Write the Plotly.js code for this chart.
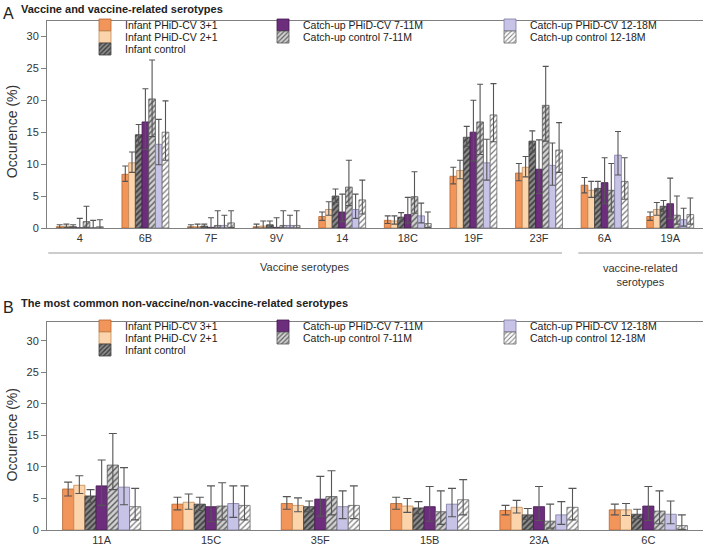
<!DOCTYPE html>
<html><head><meta charset="utf-8">
<script src="https://cdn.plot.ly/plotly-3.0.1.min.js"></script>
<style>html,body{margin:0;padding:0;background:#fff}#chart{width:705px;height:547px}</style>
</head><body><div id="chart"></div>
<script>
// ---------- data ----------
const seriesNames = ['Infant PHiD-CV 3+1','Infant PHiD-CV 2+1','Infant control','Catch-up PHiD-CV 7-11M','Catch-up control 7-11M','Catch-up PHiD-CV 12-18M','Catch-up control 12-18M'];

// Panel A: vaccine and vaccine-related serotypes
const catsA = ['4','6B','7F','9V','14','18C','19F','23F','6A','19A'];
const a1 = [0.2, 8.4, 0.2, 0.2, 1.8, 1.2, 8.1, 8.6, 6.7, 1.8];
const a1hi = [0.5, 9.7, 0.5, 0.6, 2.5, 1.9, 9.5, 10.1, 7.9, 2.5];
const a1lo = [0, 7.3, 0, 0, 1.2, 0.7, 6.9, 7.4, 5.5, 1.2];
const a2 = [0.3, 10.2, 0.2, 0.3, 2.9, 1.1, 9.0, 9.5, 5.9, 2.9];
const a2hi = [0.6, 11.9, 0.6, 1.1, 4.1, 1.9, 10.6, 11.2, 7.3, 4.0];
const a2lo = [0.1, 8.7, 0, 0, 2.0, 0.6, 7.7, 8.0, 4.8, 2.0];
const a3 = [0.2, 14.6, 0.3, 0.5, 5.0, 1.7, 14.2, 13.6, 6.2, 3.4];
const a3hi = [0.5, 16.2, 0.6, 1.1, 6.1, 2.4, 15.9, 15.2, 7.3, 4.3];
const a3lo = [0, 13.0, 0.1, 0.1, 4.0, 1.1, 12.8, 11.9, 5.0, 2.6];
const a4 = [0, 16.6, 0.1, 0.1, 2.5, 2.1, 15.0, 9.2, 7.1, 3.8];
const a4hi = [1.5, 21.8, 1.6, 1.6, 5.3, 4.8, 20.0, 13.8, 11.0, 7.8];
const a4lo = [0, 12.3, 0, 0, 1.0, 0.8, 10.5, 5.4, 3.8, 1.5];
const a5 = [1.0, 20.2, 0.4, 0.4, 6.4, 4.9, 16.6, 19.2, 5.9, 2.0];
const a5hi = [3.4, 26.3, 2.7, 2.7, 10.6, 8.8, 22.5, 25.3, 10.1, 5.0];
const a5lo = [0.1, 14.3, 0, 0, 3.5, 2.3, 11.5, 13.6, 2.5, 0.6];
const a6 = [0, 13.1, 0.4, 0.4, 2.9, 1.9, 10.2, 9.8, 11.4, 1.3];
const a6hi = [1.2, 17.0, 2.0, 2.0, 5.3, 3.9, 13.9, 13.3, 15.1, 3.1];
const a6lo = [0, 9.9, 0, 0, 1.5, 0.8, 7.5, 6.7, 8.3, 0.3];
const a7 = [0.2, 15.0, 0.8, 0.4, 4.4, 0.7, 17.7, 12.2, 7.3, 2.1];
const a7hi = [1.3, 19.9, 2.7, 2.7, 7.5, 2.5, 22.6, 16.5, 11.0, 4.7];
const a7lo = [0, 10.6, 0.1, 0, 2.2, 0.1, 13.5, 8.7, 4.5, 0.6];

// Panel B: most common non-vaccine serotypes
const catsB = ['11A','15C','35F','15B','23A','6C'];
const b1 = [6.5, 4.1, 4.2, 4.2, 3.1, 3.2];
const b1hi = [7.6, 5.2, 5.3, 5.2, 3.9, 4.1];
const b1lo = [5.4, 3.2, 3.3, 3.3, 2.4, 2.4];
const b2 = [7.1, 4.4, 3.9, 3.8, 3.6, 3.2];
const b2hi = [8.6, 5.7, 5.1, 5.0, 4.7, 4.2];
const b2lo = [5.8, 3.3, 2.9, 2.8, 2.7, 2.3];
const b3 = [5.4, 4.1, 3.7, 3.5, 2.4, 2.5];
const b3hi = [6.4, 5.2, 4.6, 4.5, 3.4, 3.3];
const b3lo = [4.4, 3.1, 2.9, 2.6, 1.7, 1.8];
const b4 = [7.0, 3.7, 4.9, 3.7, 3.7, 3.8];
const b4hi = [11.1, 7.0, 8.5, 6.9, 6.9, 6.9];
const b4lo = [3.9, 1.3, 2.2, 1.4, 1.5, 1.5];
const b5 = [10.3, 3.8, 5.3, 2.9, 1.4, 3.0];
const b5hi = [15.3, 7.5, 9.4, 6.2, 4.1, 6.2];
const b5lo = [6.4, 1.6, 2.4, 0.9, 0.3, 1.0];
const b6 = [6.8, 4.2, 3.7, 4.1, 2.4, 2.5];
const b6hi = [9.9, 7.0, 6.2, 6.6, 4.5, 4.6];
const b6lo = [4.0, 2.0, 1.8, 2.1, 0.9, 1.0];
const b7 = [3.7, 3.9, 3.9, 4.8, 3.6, 0.7];
const b7hi = [6.6, 7.0, 7.0, 8.0, 6.6, 2.4];
const b7lo = [1.6, 1.6, 1.8, 2.4, 1.6, 0.1];

const yTicks = [0, 5, 10, 15, 20, 25, 30];

// ---------- styles ----------
const W = 705, H = 547;
const FONT = 'Arial, "Liberation Sans", sans-serif';
const styles = [
  {fill:'#F2955A', line:'#B5652F'},
  {fill:'#FCD4AC', line:'#C08A58'},
  {fill:'#8C8C8C', line:'#3F3F3F', pat:{shape:'/', fgcolor:'#3A3A3A', bgcolor:'#8C8C8C', size:4, solidity:0.4}},
  {fill:'#6D2D7D', line:'#45184F'},
  {fill:'#D0D0D0', line:'#555555', pat:{shape:'/', fgcolor:'#5A5A5A', bgcolor:'#D2D2D2', size:4, solidity:0.35}},
  {fill:'#C6C3E6', line:'#7D7AA3'},
  {fill:'#FFFFFF', line:'#666666', pat:{shape:'/', fgcolor:'#7A7A7A', bgcolor:'#FFFFFF', size:4, solidity:0.3}}
];
const seriesA = [[a1,a1hi,a1lo],[a2,a2hi,a2lo],[a3,a3hi,a3lo],[a4,a4hi,a4lo],[a5,a5hi,a5lo],[a6,a6hi,a6lo],[a7,a7hi,a7lo]];
const seriesB = [[b1,b1hi,b1lo],[b2,b2hi,b2lo],[b3,b3hi,b3lo],[b4,b4hi,b4lo],[b5,b5hi,b5lo],[b6,b6hi,b6lo],[b7,b7hi,b7lo]];

// legend positions (pixels): column starts and row centres
const legCols = [85, 263, 490];
const legSlots = [[0,0],[0,1],[0,2],[1,0],[1,1],[2,0],[2,1]]; // [col,row] per series
const rowsA = [25, 37, 49], rowsB = [326, 338, 350];

const px = v => v / W, py = v => 1 - v / H;

function makeTraces(cats, series, xa, ya, legOffset, errW) {
  return series.map((s, i) => {
    const [v, hi, lo] = s;
    const st = styles[i];
    const marker = {color: st.fill, line: {color: st.line, width: 0.8}};
    if (st.pat) marker.pattern = st.pat;
    return {
      type: 'bar', x: cats, y: v, name: seriesNames[i], xaxis: xa, yaxis: ya,
      marker: marker,
      legend: 'legend' + (legOffset + i === 1 ? '' : (legOffset + i)),
      error_y: {type: 'data', symmetric: false,
        array: v.map((d, k) => hi[k] - d), arrayminus: v.map((d, k) => d - lo[k]),
        color: '#555555', thickness: 1.1, width: errW}
    };
  });
}

const traces = [].concat(
  makeTraces(catsA, seriesA, 'x', 'y', 1, 3),
  makeTraces(catsB, seriesB, 'x2', 'y2', 8, 4)
);

const axX = {type: 'category', showline: true, linecolor: '#808080', linewidth: 1, mirror: true,
  ticks: '', showgrid: false, tickfont: {size: 11, color: '#333'}};
const axY = {tickvals: yTicks, ticks: 'outside', ticklen: 5, tickcolor: '#808080', showline: true,
  linecolor: '#808080', showgrid: false, zeroline: false, tickfont: {size: 11, color: '#333'}};

const layout = {
  width: W, height: H,
  margin: {l: 0, r: 0, t: 0, b: 0},
  paper_bgcolor: '#fff', plot_bgcolor: '#fff',
  font: {family: FONT, size: 11, color: '#333'},
  barmode: 'group', bargap: 0.285, bargroupgap: 0,
  xaxis: Object.assign({}, axX, {domain: [px(47), px(703)], anchor: 'y', range: [-0.5, 9.5]}),
  yaxis: Object.assign({}, axY, {domain: [py(228), py(21)], anchor: 'x', range: [0, 32.4]}),
  xaxis2: Object.assign({}, axX, {domain: [px(47), px(703)], anchor: 'y2', range: [-0.5, 5.5]}),
  yaxis2: Object.assign({}, axY, {domain: [py(530), py(322)], anchor: 'x2', range: [0, 33]}),
  shapes: [
    {type: 'line', xref: 'x', yref: 'paper', x0: -0.48, x1: 7.35, y0: py(253), y1: py(253), line: {color: '#999', width: 1}},
    {type: 'line', xref: 'x', yref: 'paper', x0: 7.6, x1: 9.5, y0: py(253), y1: py(253), line: {color: '#999', width: 1}}
  ],
  annotations: [
    {text: 'A', xref: 'paper', yref: 'paper', x: px(1), y: py(13), xanchor: 'left', yanchor: 'middle', showarrow: false, font: {size: 16, color: '#222'}},
    {text: '<b>Vaccine and vaccine-related serotypes</b>', xref: 'paper', yref: 'paper', x: px(19), y: py(9), xanchor: 'left', yanchor: 'middle', showarrow: false, font: {size: 11, color: '#222'}},
    {text: 'Occurence (%)', xref: 'paper', yref: 'y', x: px(12), y: 15, textangle: -90, xanchor: 'center', yanchor: 'middle', showarrow: false, font: {size: 14, color: '#333'}},
    {text: 'Vaccine serotypes', xref: 'x', yref: 'paper', x: 3.43, y: py(267), xanchor: 'center', yanchor: 'middle', showarrow: false, font: {size: 11, color: '#333'}},
    {text: 'vaccine-related<br>serotypes', xref: 'x', yref: 'paper', x: 8.55, y: py(275), xanchor: 'center', yanchor: 'middle', showarrow: false, font: {size: 11, color: '#333'}},
    {text: 'B', xref: 'paper', yref: 'paper', x: px(1), y: py(307), xanchor: 'left', yanchor: 'middle', showarrow: false, font: {size: 16, color: '#222'}},
    {text: '<b>The most common non-vaccine/non-vaccine-related serotypes</b>', xref: 'paper', yref: 'paper', x: px(19), y: py(303), xanchor: 'left', yanchor: 'middle', showarrow: false, font: {size: 11, color: '#222'}},
    {text: 'Occurence (%)', xref: 'paper', yref: 'y2', x: px(12), y: 15, textangle: -90, xanchor: 'center', yanchor: 'middle', showarrow: false, font: {size: 14, color: '#333'}}
  ],
  showlegend: true
};

// one single-entry legend per series per panel, arranged in the 3-column grid
for (let p = 0; p < 2; p++) {
  const rows = p === 0 ? rowsA : rowsB;
  for (let i = 0; i < 7; i++) {
    const n = p * 7 + i + 1;
    const key = n === 1 ? 'legend' : 'legend' + n;
    const [c, r] = legSlots[i];
    layout[key] = {x: px(legCols[c]), y: py(rows[r]), xanchor: 'left', yanchor: 'middle',
      bgcolor: 'rgba(0,0,0,0)', borderwidth: 0, font: {size: 10.5, color: '#222', family: FONT}};
  }
}

Plotly.newPlot('chart', traces, layout, {displayModeBar: false, staticPlot: true});
</script>
</body></html>
